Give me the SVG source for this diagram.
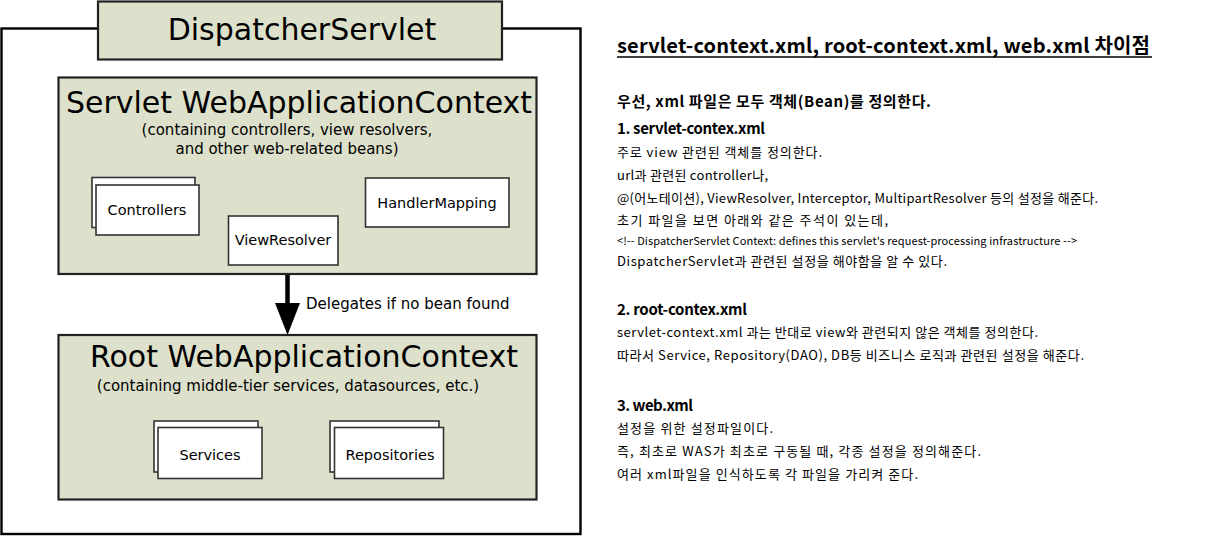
<svg xmlns="http://www.w3.org/2000/svg" width="1218" height="536" viewBox="0 0 1218 536">
<style>
.ctx{fill:#dde0ca;stroke:#222;stroke-width:2.2}
.bean{fill:#fff;stroke:#333;stroke-width:1.6}
.d{font-family:"DejaVu Sans",sans-serif;fill:#000;text-anchor:middle}
.big{font-size:30px}
.sub{font-size:15px}
.lbl{font-size:14.5px}
.k{font-family:"Noto Sans CJK KR","Noto Sans",sans-serif;fill:#000}
.kb{font-weight:bold;font-size:15px}
.kt{font-size:13px}
</style>
<rect width="1218" height="536" fill="#fff"/>
<g id="outer">
<rect x="1.5" y="28.5" width="579" height="505.5" fill="none" stroke="#000" stroke-width="2.4"/>
</g>
<g id="dispatcher">
<rect x="98" y="1.5" width="404" height="58" class="ctx" stroke-width="2.6"/>
<text x="302" y="40" class="d big">DispatcherServlet</text>
</g>
<g id="servlet-context">
<rect x="58.5" y="77.5" width="478" height="196.5" class="ctx"/>
<text x="299" y="113" class="d big">Servlet WebApplicationContext</text>
<text x="287" y="135" class="d sub">(containing controllers, view resolvers,</text>
<text x="287" y="154" class="d sub">and other web-related beans)</text>
</g>
<g id="controllers">
<rect x="92" y="177.5" width="103" height="50" class="bean"/>
<rect x="96" y="185" width="103" height="50" class="bean"/>
<text x="147" y="215" class="d lbl">Controllers</text>
</g>
<g id="viewresolver">
<rect x="228.5" y="216" width="109.5" height="49" class="bean"/>
<text x="283" y="245" class="d lbl">ViewResolver</text>
</g>
<g id="handlermapping">
<rect x="365.5" y="178" width="143.5" height="49" class="bean"/>
<text x="437" y="208" class="d lbl">HandlerMapping</text>
</g>
<g id="root-context">
<rect x="58.5" y="335" width="478" height="164.5" class="ctx"/>
<text x="304" y="367" class="d big">Root WebApplicationContext</text>
<text x="288" y="391" class="d sub">(containing middle-tier services, datasources, etc.)</text>
</g>
<g id="services">
<rect x="154" y="421" width="104" height="51" class="bean"/>
<rect x="158" y="427.5" width="104" height="51" class="bean"/>
<text x="210" y="460" class="d lbl">Services</text>
</g>
<g id="repositories">
<rect x="330" y="421" width="109" height="51" class="bean"/>
<rect x="334.5" y="427.5" width="109" height="51" class="bean"/>
<text x="390" y="460" class="d lbl">Repositories</text>
</g>
<g id="connectors">
<line x1="287.5" y1="275" x2="287.5" y2="306" stroke="#000" stroke-width="4.5"/>
<polygon points="275,303 300,303 287.5,335" fill="#000"/>
<text x="306" y="309" class="d sub" style="text-anchor:start">Delegates if no bean found</text>
</g>
<g id="notes">
<text x="617" y="53" class="k" font-size="20" font-weight="bold" textLength="533">servlet-context.xml, root-context.xml, web.xml 차이점</text>
<line x1="617" y1="57" x2="1152" y2="57" stroke="#000" stroke-width="1.5"/>
<text x="617" y="107" class="k kb" textLength="314">우선, xml 파일은 모두 객체(Bean)를 정의한다.</text>
<text x="617" y="134" class="k kb" textLength="148">1. servlet-contex.xml</text>
<text x="617" y="157" class="k kt" textLength="205">주로 view 관련된 객체를 정의한다.</text>
<text x="617" y="180" class="k kt" textLength="151">url과 관련된 controller나,</text>
<text x="617" y="203" class="k kt" textLength="481">@(어노테이션), ViewResolver, Interceptor, MultipartResolver 등의 설정을 해준다.</text>
<text x="617" y="225" class="k kt" textLength="271">초기 파일을 보면 아래와 같은 주석이 있는데,</text>
<text x="617" y="245" class="k" font-size="11" textLength="460">&lt;!-- DispatcherServlet Context: defines this servlet's request-processing infrastructure --&gt;</text>
<text x="617" y="266" class="k kt" textLength="330">DispatcherServlet과 관련된 설정을 해야함을 알 수 있다.</text>
<text x="617" y="315" class="k kb" textLength="130">2. root-contex.xml</text>
<text x="617" y="337" class="k kt" textLength="421">servlet-context.xml 과는 반대로 view와 관련되지 않은 객체를 정의한다.</text>
<text x="617" y="360" class="k kt" textLength="467">따라서 Service, Repository(DAO), DB등 비즈니스 로직과 관련된 설정을 해준다.</text>
<text x="617" y="411" class="k kb" textLength="76">3. web.xml</text>
<text x="617" y="433" class="k kt" textLength="156">설정을 위한 설정파일이다.</text>
<text x="617" y="456" class="k kt" textLength="364">즉, 최초로 WAS가 최초로 구동될 때, 각종 설정을 정의해준다.</text>
<text x="617" y="479" class="k kt" textLength="301">여러 xml파일을 인식하도록 각 파일을 가리켜 준다.</text>
</g>
</svg>
